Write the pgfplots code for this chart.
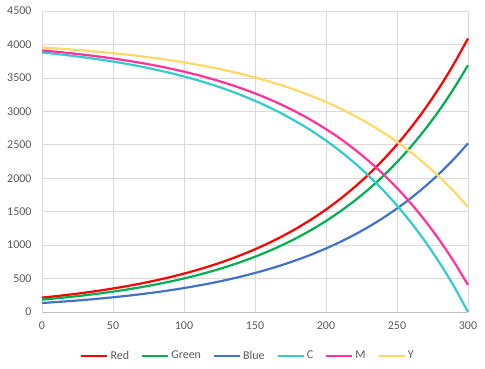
\documentclass[border=0pt]{standalone}
\usepackage{fontspec}
\setmainfont{Carlito}
\usepackage{pgfplots}
\usepackage{pgfplotstable}
\pgfplotsset{compat=1.18}
\definecolor{cRed}{HTML}{FF0000}
\definecolor{cGreen}{HTML}{00B050}
\definecolor{cBlue}{HTML}{4472C4}
\definecolor{cC}{HTML}{33CCCC}
\definecolor{cM}{HTML}{FF3399}
\definecolor{cY}{HTML}{FFD966}
\definecolor{gridgray}{HTML}{D9D9D9}
\definecolor{axisgray}{HTML}{BFBFBF}
\definecolor{labgray}{HTML}{595959}
\pgfplotstableread{
x R G B C M Y
0 215.0 185.0 135.0 3880 3910 3955
10 237.2 204.4 148.8 3858 3891 3941
20 261.6 225.9 164.1 3833 3869 3926
30 288.6 249.6 180.9 3806 3845 3909
40 318.4 275.7 199.4 3777 3819 3891
50 351.3 304.7 219.9 3744 3790 3870
60 387.5 336.6 242.4 3708 3758 3848
70 427.5 371.9 267.3 3668 3723 3823
80 471.6 411.0 294.6 3623 3684 3795
90 520.3 454.1 324.8 3575 3641 3765
100 573.9 501.7 358.1 3521 3593 3732
110 633.1 554.4 394.8 3462 3541 3695
120 698.5 612.5 435.3 3397 3482 3655
130 770.5 676.8 479.9 3325 3418 3610
140 850.0 747.8 529.1 3245 3347 3561
150 937.7 826.3 583.3 3157 3269 3507
160 1034.5 912.9 643.1 3061 3182 3447
170 1141.2 1008.7 709.0 2954 3086 3381
180 1258.9 1114.6 781.6 2836 2980 3308
190 1388.8 1231.5 861.7 2706 2864 3228
200 1532.1 1360.7 950.0 2563 2734 3140
210 1690.2 1503.5 1047.4 2405 2592 3043
220 1864.5 1661.2 1154.7 2231 2434 2935
230 2056.9 1835.5 1273.0 2038 2260 2817
240 2269.1 2028.1 1403.5 1826 2067 2687
250 2503.2 2240.9 1547.3 1592 1854 2543
260 2761.5 2476.0 1705.9 1334 1619 2384
270 3046.4 2735.7 1880.7 1049 1359 2209
280 3360.7 3022.8 2073.4 734 1072 2017
290 3707.4 3339.9 2285.9 388 755 1804
300 4089.9 3690.3 2520.2 0 405 1570
}\datatable
\begin{document}
\begin{tikzpicture}
\begin{axis}[
  name=ax,
  scale only axis,
  width=426bp, height=301bp,
  xmin=0, xmax=300, ymin=0, ymax=4500,
  xtick={0,50,...,300},
  ytick={0,500,...,4500},
  grid=major,
  major grid style={gridgray, line width=0.75bp},
  axis line style={draw=none},
  major tick length=0pt,
  tick label style={font=\fontsize{12}{14}\selectfont, text=labgray},
  /pgf/number format/assume math mode=true,
  /pgf/number format/1000 sep={},
  yticklabel style={xshift=-7bp},
  xticklabel style={yshift=-6bp},
  clip=false,
  legend columns=6,
  legend style={draw=none, fill=none,
    at={(0.4836,-0.145)}, anchor=center,
    font=\fontsize{12}{14}\selectfont, text=labgray,
    /tikz/every even column/.append style={column sep=10bp}},
  legend image code/.code={\draw[#1] (0bp,0bp) -- (26bp,0bp);},
  every axis plot/.append style={line width=2.2bp, smooth, line join=round},
]
\addplot[cRed] table[x=x, y=R] {\datatable};
\addlegendentry{Red}
\addplot[cGreen] table[x=x, y=G] {\datatable};
\addlegendentry{Green}
\addplot[cBlue] table[x=x, y=B] {\datatable};
\addlegendentry{Blue}
\addplot[cC] table[x=x, y=C] {\datatable};
\addlegendentry{C}
\addplot[cM] table[x=x, y=M] {\datatable};
\addlegendentry{M}
\addplot[cY] table[x=x, y=Y] {\datatable};
\addlegendentry{Y}
\draw[axisgray, line width=0.75bp] (rel axis cs:0,0) -- (rel axis cs:1,0);
\end{axis}
\pgfresetboundingbox
\path ([shift={(-42bp,-57bp)}]ax.south west) rectangle ([shift={(17bp,11bp)}]ax.north east);
\end{tikzpicture}
\end{document}
